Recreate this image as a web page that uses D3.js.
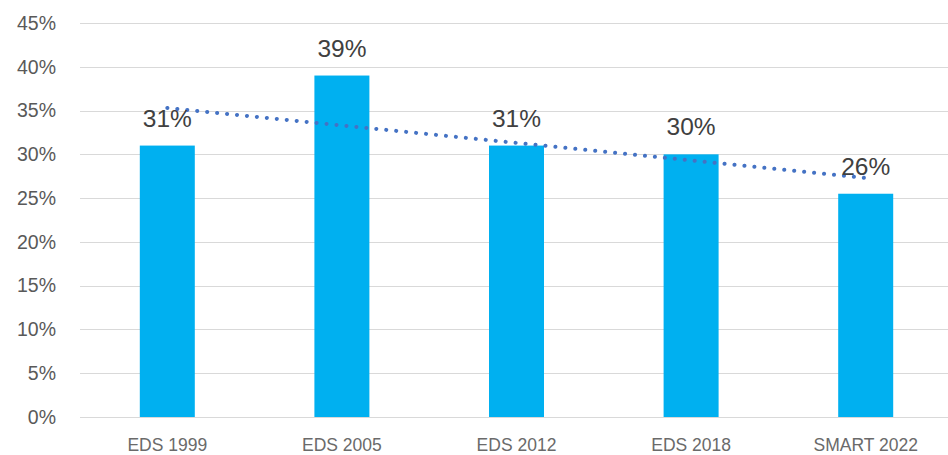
<!DOCTYPE html>
<html>
<head>
<meta charset="utf-8">
<script src="https://cdn.jsdelivr.net/npm/d3@7"></script>
<style>
  html, body { margin: 0; padding: 0; background: #fff; }
  svg { display: block; }
</style>
</head>
<body>
<svg id="chart" width="948" height="455"></svg>
<script>
const categories = ["EDS 1999", "EDS 2005", "EDS 2012", "EDS 2018", "SMART 2022"];
const values = [0.31, 0.39, 0.31, 0.30, 0.255];
const labels = ["31%", "39%", "31%", "30%", "26%"];
const yTicks = [0, 0.05, 0.10, 0.15, 0.20, 0.25, 0.30, 0.35, 0.40, 0.45];

(function () {
const svg = d3.select("#chart");
const plotL = 80, plotR = 953, plotT = 23, plotB = 417;

const x = d3.scaleBand().domain(categories).range([plotL, plotR])
  .paddingInner(0.685).paddingOuter(0.3425);
const y = d3.scaleLinear().domain([0, 0.45]).range([plotB, plotT]);

// gridlines
svg.append("g").selectAll("line").data(yTicks).join("line")
  .attr("x1", plotL).attr("x2", 948)
  .attr("y1", d => Math.round(y(d)) + 0.5).attr("y2", d => Math.round(y(d)) + 0.5)
  .attr("stroke", "#D9D9D9").attr("stroke-width", 1);

// y axis labels
const yAxis = d3.axisLeft(y).tickValues(yTicks).tickFormat(d3.format(".0%")).tickSize(0).tickPadding(0);
const gy = svg.append("g").attr("transform", "translate(56,0)").call(yAxis);
gy.select(".domain").remove();
gy.selectAll("text").attr("font-family", "Liberation Sans, Arial, sans-serif")
  .attr("font-size", 19.5).attr("fill", "#595959");

// x axis labels
const xAxis = d3.axisBottom(x).tickSize(0).tickPadding(0);
const gx = svg.append("g").attr("transform", "translate(0,439)").call(xAxis);
gx.select(".domain").remove();
gx.selectAll("text").attr("font-family", "Liberation Sans, Arial, sans-serif")
  .attr("font-size", 17.5).attr("fill", "#6a6a6a").attr("dy", "0.71em");

// bars
svg.append("g").selectAll("rect").data(values).join("rect")
  .attr("x", (d, i) => x(categories[i]))
  .attr("width", x.bandwidth())
  .attr("y", d => y(d))
  .attr("height", d => y(0) - y(d))
  .attr("fill", "#00B0F0");

// linear trendline (least squares over the series)
const n = values.length;
const xs = values.map((d, i) => i + 1);
const mx = d3.mean(xs), my = d3.mean(values);
const slope = d3.sum(xs.map((xi, i) => (xi - mx) * (values[i] - my))) / d3.sum(xs.map(xi => (xi - mx) ** 2));
const icpt = my - slope * mx;
const trend = xs.map((xi, i) => ({ cx: x(categories[i]) + x.bandwidth() / 2, v: icpt + slope * xi }));
svg.append("path")
  .datum([trend[0], trend[n - 1]])
  .attr("d", d3.line().x(d => d.cx).y(d => y(d.v)))
  .attr("fill", "none").attr("stroke", "#4472C4").attr("stroke-width", 4)
  .attr("stroke-linecap", "round").attr("stroke-dasharray", "0.1 9.9");

// data labels
svg.append("g").selectAll("text").data(values).join("text")
  .attr("x", (d, i) => x(categories[i]) + x.bandwidth() / 2)
  .attr("y", d => y(d) - 19)
  .attr("text-anchor", "middle")
  .attr("font-family", "Liberation Sans, Arial, sans-serif")
  .attr("font-size", 24.5).attr("fill", "#404040")
  .text((d, i) => labels[i]);
})();
</script>
</body>
</html>
